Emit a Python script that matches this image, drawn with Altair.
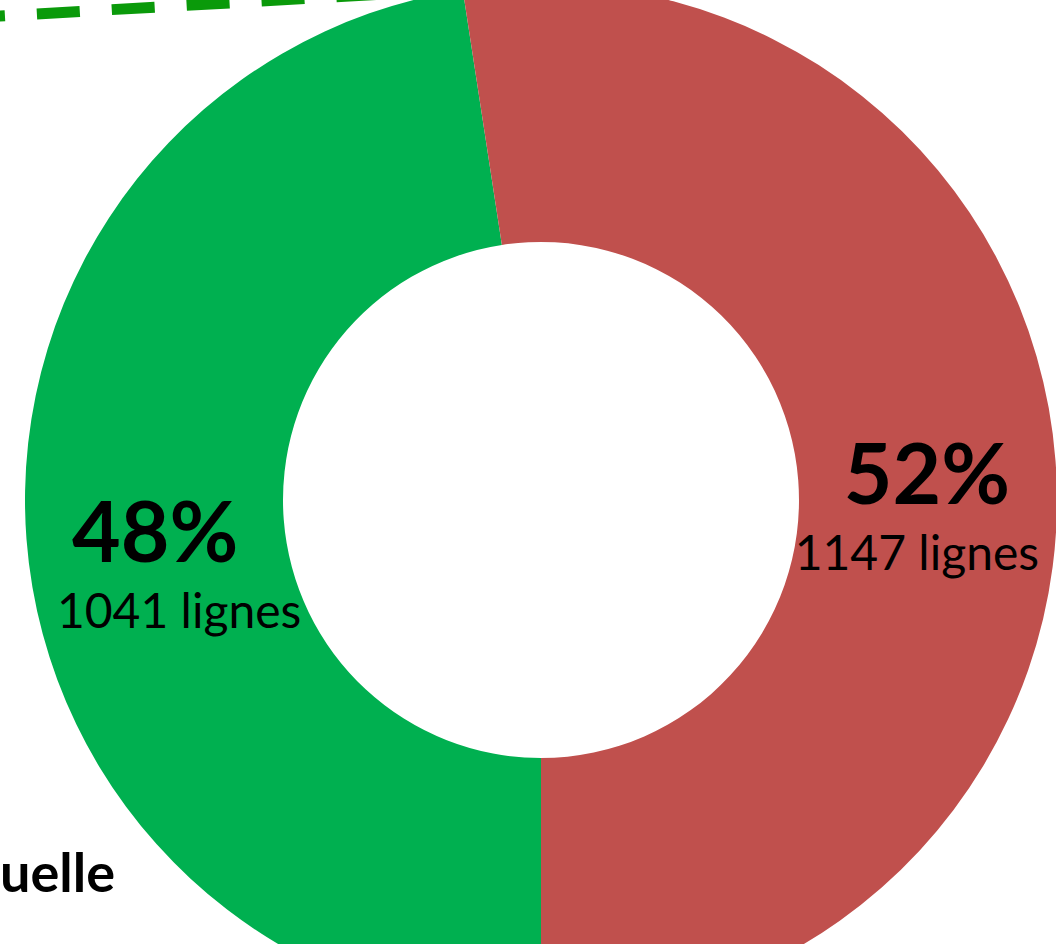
import math
import altair as alt
import pandas as pd

# ---- data ----
categories = ["vert", "rouge"]
counts = [1041, 1147]
colors = ["#00B050", "#C0504D"]
order = [1, 2]
unit = "lignes"
side_label = ["uelle"]

df = pd.DataFrame({"cat": categories, "value": counts, "order": order})

W, H = 1056, 944
CX, CY = 541, 500
R_OUT, R_IN = 516, 258
R_LAB = (R_OUT + R_IN) / 2

theta = alt.Theta("value:Q", stack=True,
                  scale=alt.Scale(range=[math.pi, 3 * math.pi]))
ordr = alt.Order("order:Q")

base = alt.Chart(df).transform_joinaggregate(
    total="sum(value)"
).transform_calculate(
    pct="round(datum.value / datum.total * 100) + '%'",
    lab_r=f"datum.cat == 'rouge' ? datum.value + ' {unit}' : ''",
    lab_v=f"datum.cat == 'vert' ? datum.value + ' {unit}' : ''",
)

arcs = base.mark_arc(radius=R_OUT, radius2=R_IN).encode(
    theta=theta,
    color=alt.Color("cat:N", scale=alt.Scale(domain=categories, range=colors), legend=None),
    order=ordr,
    x=alt.value(CX), y=alt.value(CY),
)

pct = base.mark_text(radius=R_LAB, font="Lato", fontWeight="bold", fontSize=84,
                     baseline="alphabetic", align="center", dy=33, color="black").encode(
    theta=theta, order=ordr, detail="cat:N", text="pct:N",
    x=alt.value(CX), y=alt.value(CY),
)

cnt_r = base.mark_text(radius=R_LAB, font="Lato", fontSize=48,
                       baseline="alphabetic", align="center", dy=99, dx=-10, color="black").encode(
    theta=theta, order=ordr, detail="cat:N", text="lab_r:N",
    x=alt.value(CX), y=alt.value(CY),
)
cnt_v = base.mark_text(radius=R_LAB, font="Lato", fontSize=48,
                       baseline="alphabetic", align="center", dy=99, dx=24, color="black").encode(
    theta=theta, order=ordr, detail="cat:N", text="lab_v:N",
    x=alt.value(CX), y=alt.value(CY),
)

dash = alt.Chart(pd.DataFrame({"k": [0]})).mark_rule(
    strokeDash=[43, 32], strokeWidth=11, color="#0A9A0A"
).encode(x=alt.value(-38), y=alt.value(18.2), x2=alt.value(420), y2=alt.value(-8))

side = alt.Chart(pd.DataFrame({"t": side_label})).mark_text(
    font="Lato", fontWeight="bold", fontSize=54, align="left", baseline="alphabetic", color="black"
).encode(text="t:N", x=alt.value(0), y=alt.value(892))

chart = alt.layer(dash, arcs, pct, cnt_r, cnt_v, side).properties(
    width=W, height=H,
    autosize=alt.AutoSizeParams(type="none"),
    padding=0,
    background="white",
).configure_view(stroke=None)

chart.save("out.html", embed_options={"renderer": "svg", "actions": False})
